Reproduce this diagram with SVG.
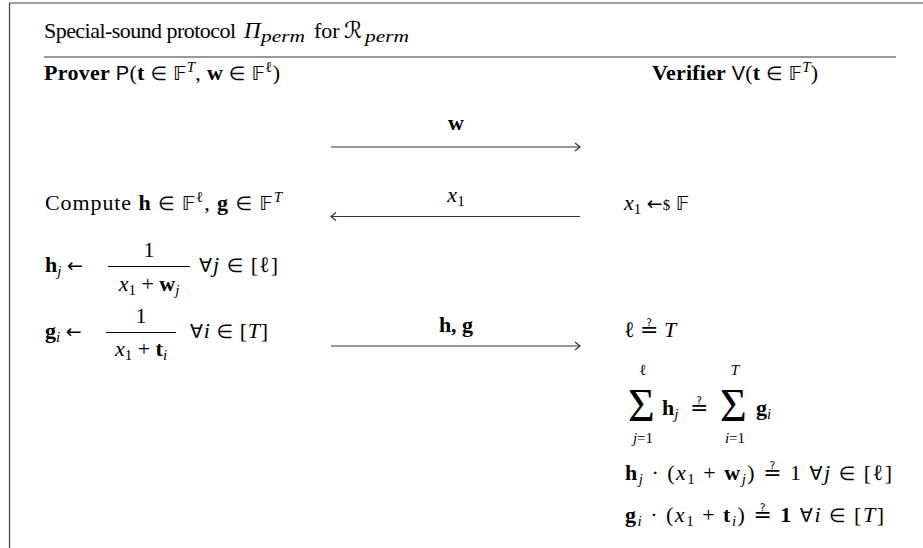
<svg xmlns="http://www.w3.org/2000/svg" width="923" height="548" viewBox="0 0 923 548">
<style>
text{font-family:"Liberation Serif","DejaVu Serif",serif;font-size:22px;fill:#000}
.i{font-style:italic}
.b{font-weight:bold}
.sf{font-family:"Liberation Sans","DejaVu Sans",sans-serif;font-size:20px}
.bb{font-family:"DejaVu Sans","DejaVu Serif","Noto Sans",sans-serif;font-size:20px}
.cal{font-family:"DejaVu Serif","DejaVu Sans","Noto Sans",serif;font-style:italic;font-size:23px}
.m{font-family:"DejaVu Sans","DejaVu Serif",sans-serif;font-size:19px}
.eq{font-family:"DejaVu Sans","DejaVu Serif",sans-serif;font-size:22px}
.sm{font-size:15px}
.ts{font-size:17px;font-style:italic}
.mid{text-anchor:middle}
.big{font-size:46px}
.frame{stroke:#444;stroke-width:1.2;fill:none}
.rule{stroke:#777;stroke-width:1.6;fill:none}
.arr{stroke:#333;stroke-width:1.2;fill:none}
.bar{stroke:#000;stroke-width:1;fill:none}
</style>
<defs>
<marker id="ah" markerUnits="userSpaceOnUse" markerWidth="12" markerHeight="12" viewBox="-8 -6 10 12" refX="0" refY="0" orient="auto">
<path d="M-5,-4 L0,0 L-5,4" fill="none" stroke="#333" stroke-width="1.2"/>
</marker>
</defs>

<g id="frame">
<path class="frame" d="M9.5,548 L9.5,3 L923,3"/>
<path class="rule" d="M44,57 L896,57"/>
</g>

<g id="title">
<text x="44" y="38" font-size="21" textLength="192">Special-sound protocol</text>
<text x="244" y="38"><tspan class="i" font-size="23">Π</tspan></text>
<text class="ts" x="261" y="42" textLength="44" lengthAdjust="spacingAndGlyphs">perm</text>
<text x="314" y="38" font-size="21">for</text>
<text class="cal" x="344" y="38">ℛ</text>
<text class="ts" x="365" y="42" textLength="44" lengthAdjust="spacingAndGlyphs">perm</text>
</g>

<g id="prover">
<text x="44" y="80" textLength="236"><tspan class="b">Prover</tspan> <tspan class="sf">P</tspan>(<tspan class="b">t</tspan> <tspan class="m">∈</tspan> <tspan class="bb">𝔽</tspan><tspan class="i sm" dy="-8">T</tspan><tspan dy="8">, </tspan><tspan class="b">w</tspan> <tspan class="m">∈</tspan> <tspan class="bb">𝔽</tspan><tspan class="sm" dy="-8">ℓ</tspan><tspan dy="8">)</tspan></text>
<text x="45" y="210" textLength="237">Compute <tspan class="b">h</tspan> <tspan class="m">∈</tspan> <tspan class="bb">𝔽</tspan><tspan class="sm" dy="-8">ℓ</tspan><tspan dy="8">, </tspan><tspan class="b">g</tspan> <tspan class="m">∈</tspan> <tspan class="bb">𝔽</tspan><tspan class="i sm" dy="-8">T</tspan></text>
<text x="45" y="272"><tspan class="b">h</tspan><tspan class="i sm" dy="4">j</tspan><tspan dy="-4"> </tspan><tspan class="m">←</tspan></text>
<text class="mid" x="149" y="257">1</text>
<path class="bar" d="M108,266.5 L190,266.5"/>
<text class="mid" x="149" y="291"><tspan class="i">x</tspan><tspan class="sm" dy="4">1</tspan><tspan dy="-4"> + </tspan><tspan class="b">w</tspan><tspan class="i sm" dy="4">j</tspan></text>
<text x="199" y="272" textLength="79"><tspan class="m">∀</tspan><tspan class="i">j</tspan> <tspan class="m">∈</tspan> [ℓ]</text>
<text x="45" y="338"><tspan class="b">g</tspan><tspan class="i sm" dy="4">i</tspan><tspan dy="-4"> </tspan><tspan class="m">←</tspan></text>
<text class="mid" x="141" y="323">1</text>
<path class="bar" d="M106,332.5 L176,332.5"/>
<text class="mid" x="141" y="356"><tspan class="i">x</tspan><tspan class="sm" dy="4">1</tspan><tspan dy="-4"> + </tspan><tspan class="b">t</tspan><tspan class="i sm" dy="4">i</tspan></text>
<text x="190" y="338" textLength="78"><tspan class="m">∀</tspan><tspan class="i">i</tspan> <tspan class="m">∈</tspan> [<tspan class="i">T</tspan>]</text>
</g>

<g id="verifier">
<text x="652" y="80" textLength="166"><tspan class="b">Verifier</tspan> <tspan class="sf">V</tspan>(<tspan class="b">t</tspan> <tspan class="m">∈</tspan> <tspan class="bb">𝔽</tspan><tspan class="i sm" dy="-8">T</tspan><tspan dy="8">)</tspan></text>
<text x="624" y="210"><tspan class="i">x</tspan><tspan class="sm" dy="4">1</tspan><tspan dy="-4"> </tspan><tspan class="m">←</tspan><tspan class="sm">$</tspan> <tspan class="bb">𝔽</tspan></text>
<text x="624" y="337">ℓ <tspan class="eq">≟</tspan> <tspan class="i">T</tspan></text>
<text class="big" x="628" y="421">Σ</text>
<text class="sm mid" x="643" y="375">ℓ</text>
<text class="sm mid" x="643" y="443"><tspan class="i">j</tspan>=1</text>
<text x="662" y="415"><tspan class="b">h</tspan><tspan class="i sm" dy="4">j</tspan></text>
<text class="eq" x="690" y="415">≟</text>
<text class="big" x="720" y="421">Σ</text>
<text class="sm mid i" x="735" y="375">T</text>
<text class="sm mid" x="735" y="443"><tspan class="i">i</tspan>=1</text>
<text x="756" y="415"><tspan class="b">g</tspan><tspan class="i sm" dy="4">i</tspan></text>
<text x="625" y="480" textLength="267"><tspan class="b">h</tspan><tspan class="i sm" dy="4">j</tspan><tspan dy="-4"> · (</tspan><tspan class="i">x</tspan><tspan class="sm" dy="4">1</tspan><tspan dy="-4"> + </tspan><tspan class="b">w</tspan><tspan class="i sm" dy="4">j</tspan><tspan dy="-4">) </tspan><tspan class="eq">≟</tspan> 1  <tspan class="m">∀</tspan><tspan class="i">j</tspan> <tspan class="m">∈</tspan> [ℓ]</text>
<text x="625" y="522" textLength="259"><tspan class="b">g</tspan><tspan class="i sm" dy="4">i</tspan><tspan dy="-4"> · (</tspan><tspan class="i">x</tspan><tspan class="sm" dy="4">1</tspan><tspan dy="-4"> + </tspan><tspan class="b">t</tspan><tspan class="i sm" dy="4">i</tspan><tspan dy="-4">) </tspan><tspan class="eq">≟</tspan> <tspan class="b">1</tspan>  <tspan class="m">∀</tspan><tspan class="i">i</tspan> <tspan class="m">∈</tspan> [<tspan class="i">T</tspan>]</text>
</g>

<g id="connectors">
<path class="arr" d="M331,147 L580,147" marker-end="url(#ah)"/>
<text class="b mid" x="456" y="130">w</text>
<path class="arr" d="M580,216.5 L331,216.5" marker-end="url(#ah)"/>
<text class="mid" x="456" y="202"><tspan class="i">x</tspan><tspan class="sm" dy="4">1</tspan></text>
<path class="arr" d="M331,346 L580,346" marker-end="url(#ah)"/>
<text class="b mid" x="456" y="332">h, g</text>
</g>
</svg>
